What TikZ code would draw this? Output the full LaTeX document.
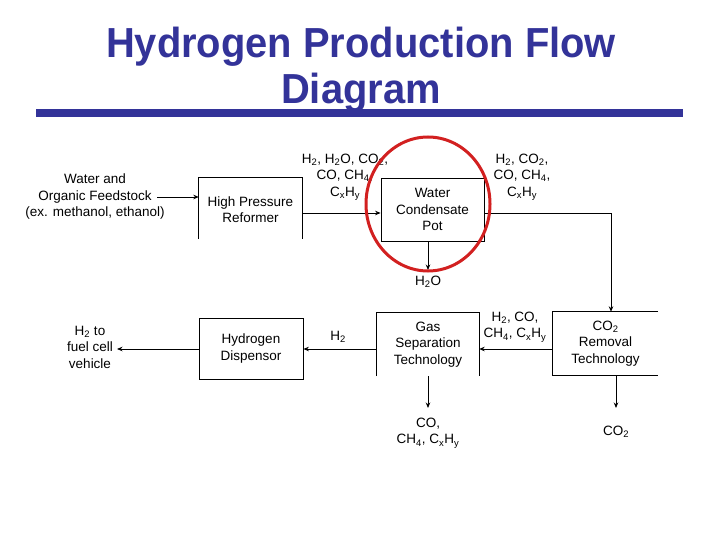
\documentclass[tikz,border=0pt]{standalone}
\usepackage{fontspec}
\setmainfont{Liberation Sans}
\usetikzlibrary{arrows.meta,shapes.geometric}
\definecolor{ttl}{RGB}{51,51,153}
\definecolor{ring}{RGB}{210,32,32}
\newcommand\lo[1]{\textsubscript{#1}}
\begin{document}
\begin{tikzpicture}[x=1pt,y=-1pt,
  lbl/.style={align=center,font=\fontsize{13.5}{16.5}\selectfont,inner sep=0pt},
  box/.style={lbl,minimum height=63pt,minimum width=#1},
  box/.default=103pt,
  ttlfont/.style={font=\fontsize{42}{46}\selectfont\bfseries,text=ttl,inner sep=0pt,anchor=base},
  arr/.style={-{Stealth[length=5.5pt,width=4.5pt]},line width=0.8pt},
  edge/.style={line width=0.8pt}]
\useasboundingbox (0,0) rectangle (720,540);
\fill[white] (0,0) rectangle (720,540);
% title
\node[ttlfont] (t1) at (361,58) {\scalebox{0.95}[1]{Hydrogen Production Flow}};
\node[ttlfont] (t2) at (361,104) {\scalebox{0.95}[1]{Diagram}};
\fill[ttl] (36,109.5) rectangle (683,117);
% boxes
\node[box] (rf) at (250.5,209.5) {High Pressure\\Reformer};
\node[box,draw,edge] (wcp) at (432.5,209.5) {Water\\Condensate\\Pot};
\node[box=105pt] (co2r) at (605.5,343.5) {CO\lo{2}\\Removal\\Technology};
\node[box=102pt] (gs) at (428,344.5) {Gas\\Separation\\Technology};
\node[box=104pt,minimum height=61pt,draw,edge] (hd) at (251,348.5) {Hydrogen\\Dispensor};
\draw[edge] ([yshift=2pt]rf.south west) -- (rf.north west) -- (rf.north east) -- ([yshift=2pt]rf.south east);
\draw[edge] (gs.south west) -- (gs.north west) -- (gs.north east) -- (gs.south east);
\draw[edge] (co2r.north east) -- (co2r.north west) -- (co2r.south west) -- (co2r.south east);
% labels
\node[lbl] (feed) at (95,197) {Water and\\Organic Feedstock\\(ex. methanol, ethanol)};
\node[lbl] (mix1) at (345,177) {H\lo{2}, H\lo{2}O, CO\lo{2},\\CO, CH\lo{4},\\C\lo{x}H\lo{y}};
\node[lbl] (mix2) at (522,177) {H\lo{2}, CO\lo{2},\\CO, CH\lo{4},\\C\lo{x}H\lo{y}};
\node[lbl] (h2o) at (428,282) {H\lo{2}O};
\node[lbl] (mix3) at (515,327) {H\lo{2}, CO,\\CH\lo{4}, C\lo{x}H\lo{y}};
\node[lbl] (co2) at (616,432) {CO\lo{2}};
\node[lbl] (rest) at (428,433) {CO,\\CH\lo{4}, C\lo{x}H\lo{y}};
\node[lbl] (h2) at (338,337) {H\lo{2}};
\node[lbl] (veh) at (90,347) {H\lo{2} to\\fuel cell\\vehicle};
% connector points
\coordinate (fs) at (157,197);
\coordinate (rw) at (340,213);
\coordinate (bend) at (611,213);
\coordinate (h2oin) at (428,270);
\coordinate (cg) at (515,349);
\coordinate (gsout) at (428,408);
\coordinate (co2out) at (616,408);
\coordinate (vh) at (117,349);
% connectors
\draw[arr] (fs) -- (fs -| rf.west);
\draw[arr] (rw -| rf.east) -- (rw -| wcp.west);
\draw[arr] (bend -| wcp.east) -- (bend) -- (bend |- co2r.north);
\draw[arr] (h2oin |- wcp.south) -- (h2oin);
\draw[arr] (cg -| co2r.west) -- (cg -| gs.east);
\draw[arr] (gsout |- gs.south) -- (gsout);
\draw[arr] (co2out |- co2r.south) -- (co2out);
\draw[arr] (cg -| gs.west) -- (cg -| hd.east);
\draw[arr] (cg -| hd.west) -- (vh);
% red ring
\draw[ring,line width=3pt] (428,204) ellipse [x radius=62, y radius=67];
\end{tikzpicture}
\end{document}
